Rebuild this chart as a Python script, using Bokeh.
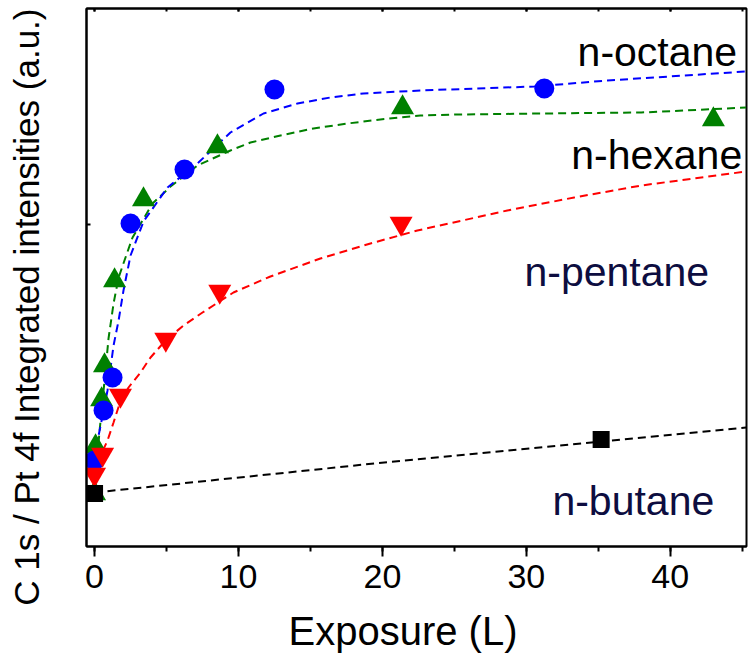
from bokeh.plotting import figure
from bokeh.models import (Range1d, LinearAxis, SingleIntervalTicker, FixedTicker,
                          CustomJSTickFormatter, Label, Title)
from bokeh.embed import file_html
from bokeh.resources import INLINE

# ---- data (exposure in L, intensity ratio in a.u.) ----
octane_x = [0, 0.625, 1.25, 2.5, 6.25, 12.5, 31.25]
octane_y = [0.86, 1.36, 1.69, 3.23, 3.77, 4.57, 4.58]
hexane_x = [0, 0.07, 0.49, 0.69, 1.39, 3.4, 8.54, 21.4, 43.0]
hexane_y = [0.53, 1.00, 1.47, 1.81, 2.66, 3.47, 4.00, 4.39, 4.27]
pentane_x = [0, 0.56, 1.8, 4.95, 8.7, 21.3]
pentane_y = [0.72, 0.92, 1.51, 2.07, 2.55, 3.23]
butane_x = [0, 35.2]
butane_y = [0.53, 1.07]

# fitted (dashed) curves
octane_fit_x = [0.07, 0.21, 0.49, 0.90, 1.32, 1.67, 2.01, 2.50, 3.40, 5.07, 7.22, 9.44,
                11.74, 14.10, 16.39, 18.68, 22.64, 30.56, 35.63, 45.28]
octane_fit_y = [0.86, 1.06, 1.26, 1.56, 2.01, 2.26, 2.56, 2.91, 3.25, 3.59, 3.84, 4.14,
                4.33, 4.43, 4.49, 4.53, 4.56, 4.60, 4.66, 4.75]
hexane_fit_x = [0.00, 0.14, 0.35, 0.56, 0.76, 0.97, 1.32, 1.67, 2.15, 2.64, 3.33, 4.03,
                5.28, 7.15, 9.44, 10.83, 12.92, 15.21, 17.57, 19.86, 22.64, 25.21, 31.04,
                37.99, 45.28]
hexane_fit_y = [0.51, 0.81, 1.16, 1.46, 1.76, 2.08, 2.43, 2.69, 2.89, 3.09, 3.26, 3.43,
                3.60, 3.81, 3.96, 4.04, 4.11, 4.18, 4.23, 4.27, 4.31, 4.32, 4.33,
                4.34, 4.39]
pentane_fit_x = [0.07, 0.42, 0.90, 1.32, 1.81, 2.36, 3.19, 3.89, 4.93, 6.18, 7.50, 9.65,
                 12.22, 15.69, 19.17, 22.43, 28.68, 33.33, 37.99, 45.28]
pentane_fit_y = [0.71, 0.91, 1.06, 1.24, 1.46, 1.59, 1.74, 1.89, 2.06, 2.21, 2.34, 2.54,
                 2.70, 2.88, 3.03, 3.16, 3.36, 3.49, 3.61, 3.75]
butane_fit_x = [0, 19.44, 45.28]
butane_fit_y = [0.54, 0.83, 1.19]

x_ticks_interval = 10
y_tick_values = [3.22]

FONT = "Liberation Sans"

p = figure(width=748, height=655, output_backend="svg", toolbar_location=None,
           x_range=Range1d(-0.56, 45.3), y_range=Range1d(0, 5.38),
           x_axis_location=None, y_axis_location=None,
           min_border_left=86, min_border_right=2, min_border_top=8, min_border_bottom=109)
p.grid.visible = False
p.outline_line_color = "black"
p.outline_line_width = 2
p.background_fill_color = "white"
p.border_fill_color = "white"

empty = CustomJSTickFormatter(code="return ''")

# bottom axis
xb = LinearAxis(ticker=SingleIntervalTicker(interval=x_ticks_interval, num_minor_ticks=2))
xb.axis_line_width = 2
xb.major_tick_in = 0
xb.major_tick_out = 10
xb.minor_tick_in = 0
xb.minor_tick_out = 5
xb.major_tick_line_width = 2
xb.minor_tick_line_width = 2
xb.major_label_text_font = FONT
xb.major_label_text_font_size = "34px"
xb.major_label_text_color = "black"
xb.major_label_standoff = 8
p.add_layout(xb, "below")

# spacer between the bottom axis and its title
p.add_layout(Title(text=" ", text_font_size="1px", standoff=12), "below")

# x axis title (left-shifted as in the original)
xtitle = Title(text="Exposure (L)", align="left", offset=202,
               text_font=FONT, text_font_size="40px", text_font_style="normal",
               text_color="black", standoff=2)
p.add_layout(xtitle, "below")

# top axis (ticks only)
xt = LinearAxis(ticker=SingleIntervalTicker(interval=x_ticks_interval, num_minor_ticks=2),
                formatter=empty)
xt.axis_line_width = 2
xt.major_tick_in = 3
xt.major_tick_out = 0
xt.minor_tick_in = 3
xt.minor_tick_out = 0
xt.major_tick_line_width = 2
xt.minor_tick_line_width = 2
xt.major_label_standoff = 0
p.add_layout(xt, "above")

# left axis (one inward tick, no labels)
yl = LinearAxis(ticker=FixedTicker(ticks=y_tick_values), formatter=empty)
yl.axis_line_width = 2
yl.major_tick_in = 4
yl.major_tick_out = 0
yl.major_tick_line_width = 2
yl.minor_tick_line_color = None
yl.major_label_standoff = 0
p.add_layout(yl, "left")

# spacer between the left axis and its title
p.add_layout(Title(text=" ", text_font_size="1px", standoff=35), "left")

# y axis title (aligned to the top of the frame as in the original)
ytitle = Title(text="C 1s / Pt 4f Integrated intensities (a.u.)", align="right", offset=0,
               text_font=FONT, text_font_size="35px", text_font_style="normal",
               text_color="black", standoff=6)
p.add_layout(ytitle, "left")

dash = "8 5"
p.line(butane_fit_x, butane_fit_y, line_color="black", line_width=2, line_dash=dash)
p.line(pentane_fit_x, pentane_fit_y, line_color="#ff0000", line_width=2, line_dash=dash)
p.line(hexane_fit_x, hexane_fit_y, line_color="#008000", line_width=2, line_dash=dash)
p.line(octane_fit_x, octane_fit_y, line_color="#0000ff", line_width=2, line_dash=dash)

p.scatter(hexane_x, hexane_y, marker="triangle", size=23, fill_color="#008000", line_color=None)
p.scatter(octane_x, octane_y, marker="circle", size=20, fill_color="#0000ff", line_color=None)
p.scatter(pentane_x, pentane_y, marker="inverted_triangle", size=23, fill_color="#ff0000", line_color=None)
p.scatter(butane_x, butane_y, marker="square", size=17, fill_color="black", line_color=None)

names = ["n-octane", "n-hexane", "n-pentane", "n-butane"]
name_x = [44.65, 45.0, 42.7, 43.06]
name_y = [4.95, 3.92, 2.75, 0.46]
name_color = ["black", "black", "#0d0d40", "#0d0d40"]
for t, xx, yy, c in zip(names, name_x, name_y, name_color):
    p.add_layout(Label(x=xx, y=yy, text=t, text_align="right", text_baseline="alphabetic",
                       text_font=FONT, text_font_size="41px", text_color=c))

open("out.html", "w").write(file_html(p, INLINE))
